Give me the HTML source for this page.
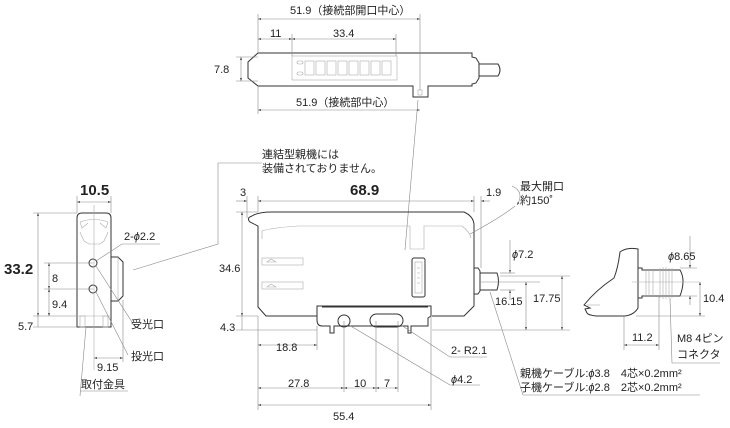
<!DOCTYPE html>
<html><head><meta charset="utf-8"><style>
html,body{margin:0;padding:0;background:#fff;}
svg{display:block;}
text{font-family:"Liberation Sans","Noto Sans CJK JP",sans-serif;fill:#222;font-size:11px;}
.b{font-size:15px;font-weight:bold;}
.o{fill:none;stroke:#333;stroke-width:1;}
.t{fill:none;stroke:#888;stroke-width:0.6;}
.g{fill:none;stroke:#aaa;stroke-width:0.6;}
</style></head><body>
<svg width="730" height="428" viewBox="0 0 730 428" xmlns="http://www.w3.org/2000/svg">
<defs><marker id="a" viewBox="0 0 6 6" refX="6" refY="3" markerWidth="5" markerHeight="5" orient="auto-start-reverse"><path d="M0,1 L6,3 L0,5z" fill="#444"/></marker></defs>

<!-- TOP VIEW -->
<path class="o" d="M258,53 L472,53 L472,57 L476,58 L479,63 L479,78 L476,83 L472,84 L472,86 L428,86 L428,97 L413,97 L413,86 L258,86 L248,78 L248,62 Z"/>
<path class="o" d="M479,64 L498,64 Q502,70 498,76 L479,76"/>
<rect class="g" x="292" y="56" width="105" height="24"/>
<g class="g"><rect x="297" y="61" width="6" height="3" rx="1.5"/><rect x="297" y="72" width="6" height="3" rx="1.5"/>
<rect x="305" y="61" width="9" height="14"/><rect x="316" y="61" width="9" height="14"/><rect x="327" y="61" width="9" height="14"/><rect x="338" y="61" width="9" height="14"/><rect x="349" y="61" width="9" height="14"/><rect x="360" y="61" width="9" height="14"/><rect x="371" y="61" width="9" height="14"/><rect x="382" y="61" width="9" height="14"/></g>
<rect class="g" x="418" y="90" width="4" height="5"/>
<g class="t">
<line x1="258" y1="14" x2="258" y2="53"/><line x1="420" y1="14" x2="420" y2="90"/>
<line x1="258" y1="19" x2="420" y2="19" marker-start="url(#a)" marker-end="url(#a)"/>
<line x1="292" y1="34" x2="292" y2="56"/><line x1="396" y1="34" x2="396" y2="56"/>
<line x1="258" y1="39" x2="292" y2="39" marker-start="url(#a)" marker-end="url(#a)"/>
<line x1="292" y1="39" x2="396" y2="39" marker-start="url(#a)" marker-end="url(#a)"/>
<line x1="236" y1="57" x2="258" y2="57"/><line x1="236" y1="81" x2="258" y2="81"/>
<line x1="241" y1="57" x2="241" y2="81" marker-start="url(#a)" marker-end="url(#a)"/>
<line x1="258" y1="86" x2="258" y2="114"/>
<line x1="258" y1="110" x2="420" y2="110" marker-start="url(#a)" marker-end="url(#a)"/>
<polyline points="418,100 405,250"/>
</g>
<text x="290" y="14">51.9（接続部開口中心）</text>
<text x="270" y="37">11</text><text x="333" y="37">33.4</text>
<text x="214" y="73">7.8</text>
<text x="296" y="106">51.9（接続部中心）</text>

<text x="262" y="158">連結型親機には</text>
<text x="262" y="172">装備されておりません。</text>
<polyline class="t" points="262,163 218,163 218,244 133,270"/>

<!-- MAIN SIDE VIEW -->
<path class="o" d="M252,216 Q258,212 272,212 L464,212 Q473,216 474,224 L474,306 L464,316 L432,316 M317,316 L266,316 L258,307 L258,226 L250,222 Q246,218 252,216"/>
<path class="g" d="M262,239 L262,231 Q270,228 298,226 L410,226 L410,249 L424,249 L424,226 L462,226 Q470,232 471,238"/>
<path class="o" d="M474,268 L478,268 L480,271 L480,291 L478,294 L474,294"/>
<path class="o" d="M480,273 L497,273 Q500,281 497,290 L480,290"/>
<rect class="o" x="412" y="258" width="13" height="39" rx="2"/>
<rect class="g" x="415" y="262" width="7" height="31"/>
<g class="g"><line x1="417" y1="268" x2="420" y2="268"/><line x1="417" y1="273" x2="420" y2="273"/><line x1="417" y1="278" x2="420" y2="278"/><line x1="417" y1="283" x2="420" y2="283"/></g>
<rect class="g" x="262" y="258" width="41" height="7"/><rect class="g" x="262" y="282" width="41" height="7"/>
<path class="g" d="M267,262 L271,259 L276,262Z M267,287 L271,284 L276,287Z"/>
<path class="o" d="M317,306 L431,306 L431,316 L428,318 L428,326 L411,326 L411,333 L408,333 L408,326 L334,326 L334,333 L330,333 L330,326 L322,326 Q317,326 317,320 Z"/>
<line class="o" x1="322" y1="307" x2="428" y2="307"/>
<circle class="o" cx="344" cy="321" r="6"/>
<rect class="o" x="370" y="314" width="33" height="13" rx="6.5"/>

<g class="t">
<line x1="247" y1="196" x2="247" y2="218"/><line x1="258" y1="196" x2="258" y2="212"/>
<line x1="474" y1="196" x2="474" y2="212"/><line x1="481" y1="196" x2="481" y2="268"/>
<line x1="236" y1="201" x2="247" y2="201" marker-end="url(#a)"/>
<line x1="258" y1="201" x2="474" y2="201" marker-start="url(#a)" marker-end="url(#a)"/>
<line x1="481" y1="201" x2="490" y2="201" marker-start="url(#a)"/>
<line x1="236" y1="212" x2="258" y2="212"/><line x1="236" y1="316" x2="258" y2="316"/><line x1="236" y1="330" x2="317" y2="330"/>
<line x1="242" y1="212" x2="242" y2="316" marker-start="url(#a)" marker-end="url(#a)"/>
<line x1="242" y1="316" x2="242" y2="330"/>
<line x1="258" y1="316" x2="258" y2="410"/>
<line x1="317" y1="326" x2="317" y2="350"/><line x1="344" y1="321" x2="344" y2="392"/>
<line x1="376" y1="321" x2="376" y2="392"/><line x1="398" y1="321" x2="398" y2="392"/><line x1="431" y1="316" x2="431" y2="410"/>
<line x1="258" y1="345" x2="317" y2="345" marker-start="url(#a)" marker-end="url(#a)"/>
<line x1="258" y1="388" x2="344" y2="388" marker-start="url(#a)" marker-end="url(#a)"/>
<line x1="344" y1="388" x2="376" y2="388" marker-start="url(#a)" marker-end="url(#a)"/>
<line x1="376" y1="388" x2="398" y2="388" marker-start="url(#a)" marker-end="url(#a)"/>
<line x1="258" y1="405" x2="431" y2="405" marker-start="url(#a)" marker-end="url(#a)"/>
<polyline points="401,325 450,357 487,357"/>
<polyline points="349,325 450,385 480,385"/>
<line x1="481" y1="282" x2="540" y2="282"/><line x1="500" y1="276" x2="570" y2="276"/>
<line x1="432" y1="330" x2="570" y2="330"/>
<line x1="510" y1="240" x2="510" y2="273" marker-end="url(#a)"/>
<line x1="510" y1="290" x2="510" y2="300" marker-start="url(#a)"/>
<line x1="500" y1="273" x2="515" y2="273"/><line x1="500" y1="290" x2="515" y2="290"/>
<line x1="526" y1="282" x2="526" y2="330" marker-start="url(#a)" marker-end="url(#a)"/>
<line x1="562" y1="276" x2="562" y2="330" marker-start="url(#a)" marker-end="url(#a)"/>
<polyline points="490,292 523,395 700,395"/>
<path d="M470,234 Q500,218 515,206"/>
<path d="M512,186 Q525,192 517,205" marker-end="url(#a)"/>
</g>
<text x="240" y="196">3</text>
<text class="b" x="350" y="195">68.9</text>
<text x="486" y="196">1.9</text>
<text x="520" y="190">最大開口</text>
<text x="520" y="204">約150˚</text>
<text x="219" y="272">34.6</text>
<text x="220" y="331">4.3</text>
<text x="276" y="351">18.8</text>
<text x="288" y="387">27.8</text><text x="354" y="387">10</text><text x="384" y="387">7</text>
<text x="333" y="420">55.4</text>
<text x="451" y="354">2- R2.1</text>
<text x="451" y="383"><tspan font-style="italic">ϕ</tspan>4.2</text>
<text x="512" y="258"><tspan font-style="italic">ϕ</tspan>7.2</text>
<text x="495" y="305">16.15</text>
<text x="533" y="302">17.75</text>
<text x="520" y="377">親機ケーブル:<tspan font-style="italic">ϕ</tspan>3.8　4芯×0.2mm²</text>
<text x="520" y="391">子機ケーブル:<tspan font-style="italic">ϕ</tspan>2.8　2芯×0.2mm²</text>

<!-- CONNECTOR VIEW -->
<path class="o" d="M620,252 Q627,247 638,249 L638,308 Q634,315 625,316 L596,316 Q588,315 587,313 L585,309 L590,308 L584,305 Q596,290 614,278 Q618,268 620,252 Z"/>
<path class="o" d="M638,268 L642,268 L642,270 L680,270 Q686,280 680,296 L642,296 L642,298 L638,298"/>
<g class="g"><line x1="646" y1="270" x2="646" y2="296"/><line x1="649" y1="270" x2="649" y2="296"/><line x1="653" y1="270" x2="653" y2="296"/>
<path d="M660,268 L660,298 M663,267 L663,299 M666,267 L666,299 M669,268 L669,298 M672,268 L672,298"/>
<line x1="632" y1="282" x2="700" y2="282"/><line x1="587" y1="305" x2="600" y2="305"/></g>
<g class="t">
<line x1="680" y1="268" x2="697" y2="268"/><line x1="680" y1="296" x2="697" y2="296"/>
<line x1="690" y1="250" x2="690" y2="268" marker-end="url(#a)"/><line x1="690" y1="296" x2="690" y2="305" marker-start="url(#a)"/>
<line x1="690" y1="236" x2="690" y2="250"/>
<line x1="636" y1="316" x2="705" y2="316"/>
<line x1="700" y1="282" x2="700" y2="316" marker-start="url(#a)" marker-end="url(#a)"/>
<line x1="624" y1="316" x2="624" y2="350"/><line x1="659" y1="296" x2="659" y2="350"/>
<line x1="624" y1="345" x2="659" y2="345" marker-start="url(#a)" marker-end="url(#a)"/>
<polyline points="670,298 672,363 720,363"/>
</g>
<text x="668" y="260"><tspan font-style="italic">ϕ</tspan>8.65</text>
<text x="703" y="302">10.4</text>
<text x="632" y="341">11.2</text>
<text x="677" y="342">M8 4ピン</text>
<text x="677" y="358">コネクタ</text>

<!-- LEFT VIEW -->
<path class="o" d="M77,218 Q77,213 82,213 L106,213 Q111,213 111,218 L111,327 L77,327 Z"/>
<path class="g" d="M80,222 Q94,217 108,222 M80,222 L82,228 L88,223 M108,222 L106,228 L100,223 M80,232 L84,241 L89,244 L100,244 L104,241 L108,232"/>
<line class="g" x1="77" y1="316" x2="111" y2="316"/>
<rect class="g" x="80" y="316" width="5" height="11"/><rect class="g" x="103" y="316" width="5" height="11"/>
<path class="o" d="M111,257 L118,257 L123,262 L123,296 L118,301 L111,301"/>
<line class="g" x1="118" y1="257" x2="118" y2="301"/>
<circle class="o" cx="93" cy="263" r="4"/><circle class="o" cx="93" cy="289" r="4"/>
<line class="g" x1="94" y1="205" x2="94" y2="370"/>
<g class="t">
<line x1="77" y1="196" x2="77" y2="213"/><line x1="111" y1="196" x2="111" y2="213"/>
<line x1="77" y1="202" x2="111" y2="202" marker-start="url(#a)" marker-end="url(#a)"/>
<line x1="33" y1="213" x2="77" y2="213"/><line x1="33" y1="316" x2="77" y2="316"/><line x1="33" y1="327" x2="77" y2="327"/>
<line x1="38" y1="213" x2="38" y2="316" marker-start="url(#a)" marker-end="url(#a)"/>
<line x1="38" y1="316" x2="38" y2="327"/>
<line x1="44" y1="263" x2="93" y2="263"/><line x1="44" y1="289" x2="93" y2="289"/>
<line x1="49" y1="263" x2="49" y2="289" marker-start="url(#a)" marker-end="url(#a)"/>
<line x1="49" y1="289" x2="49" y2="316" marker-start="url(#a)" marker-end="url(#a)"/>
<polyline points="96,261 122,244 160,244"/>
<line x1="96" y1="266" x2="132" y2="322"/>
<line x1="96" y1="292" x2="128" y2="355"/>
<line x1="123" y1="300" x2="123" y2="362"/>
<line x1="94" y1="358" x2="123" y2="358" marker-start="url(#a)" marker-end="url(#a)"/>
<polyline points="86,327 80,396"/>
<line x1="80" y1="391" x2="128" y2="391"/>
</g>
<text class="b" x="80" y="195">10.5</text>
<text class="b" x="4" y="274">33.2</text>
<text x="52" y="282">8</text>
<text x="52" y="308">9.4</text>
<text x="18" y="330">5.7</text>
<text x="124" y="240">2-<tspan font-style="italic">ϕ</tspan>2.2</text>
<text x="131" y="328">受光口</text>
<text x="131" y="360">投光口</text>
<text x="97" y="371">9.15</text>
<text x="81" y="388">取付金具</text>
</svg>
</body></html>
